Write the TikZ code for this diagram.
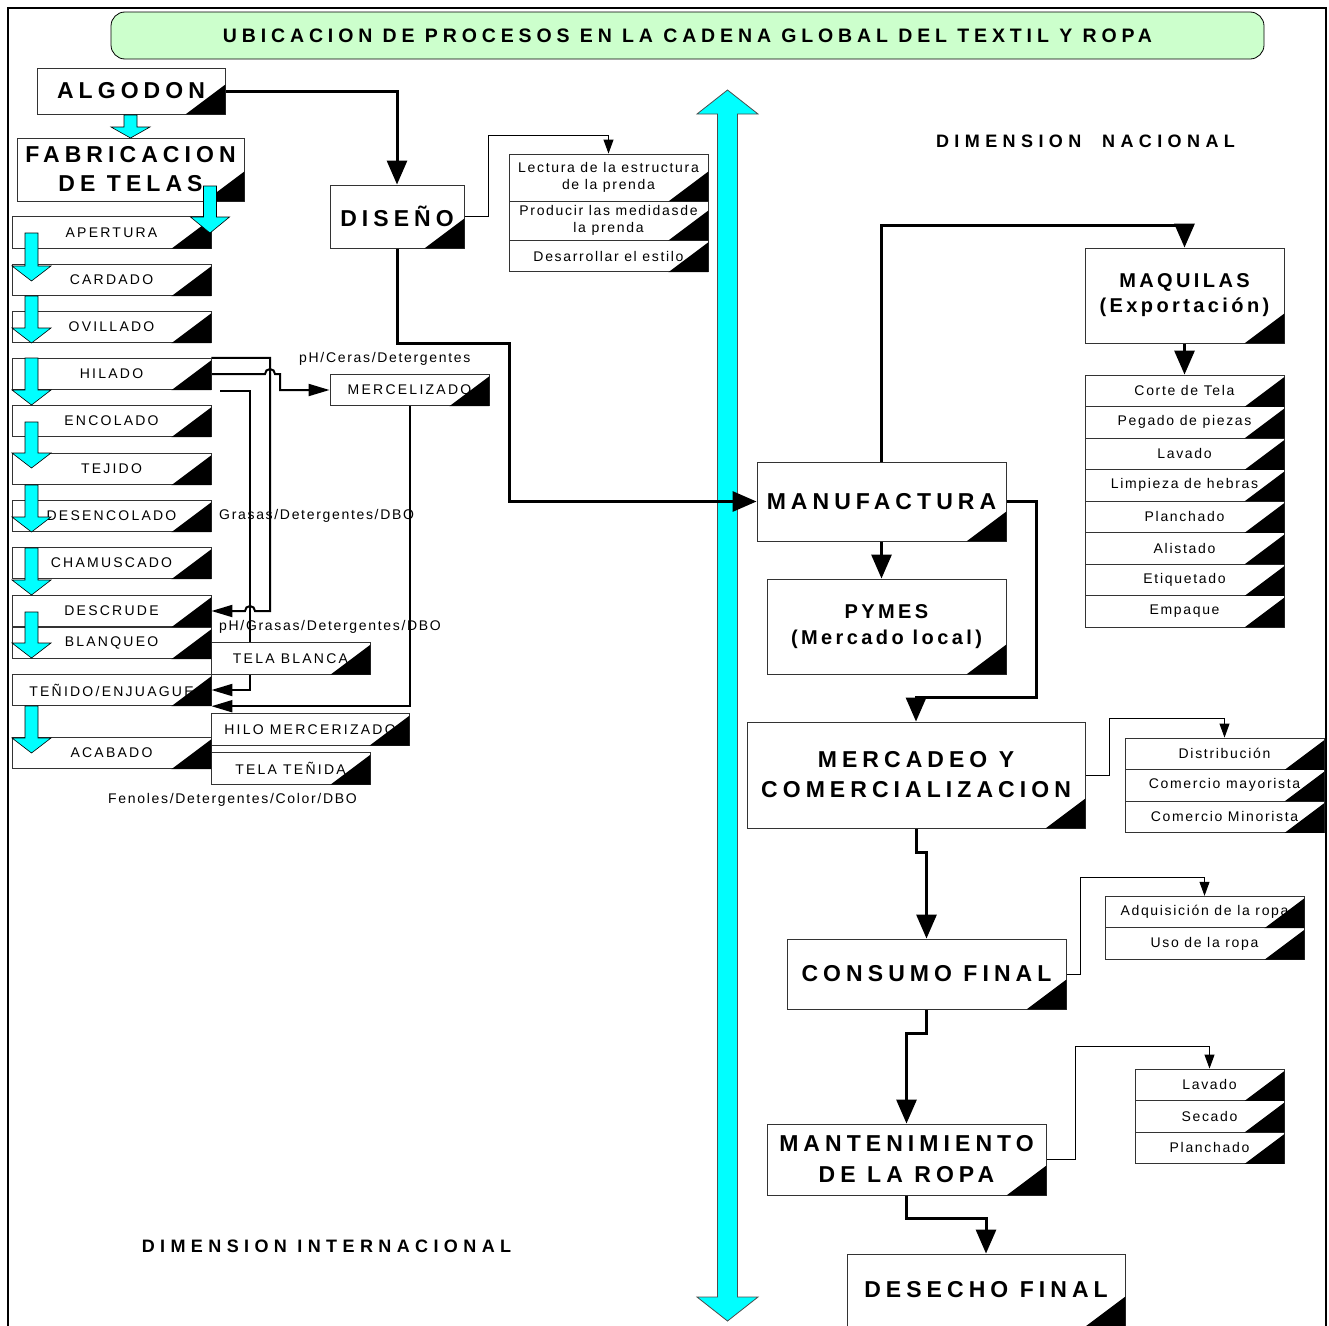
\documentclass[tikz,border=0pt]{standalone}
\usepackage{fontspec}
\setmainfont{Liberation Sans}
\newfontfamily\widesp[LetterSpace=22]{Liberation Sans}
\newfontfamily\midsp[LetterSpace=17]{Liberation Sans}
\newfontfamily\titlesp[LetterSpace=25]{Liberation Sans}
\newfontfamily\dimsp[LetterSpace=30]{Liberation Sans}
\newfontfamily\capsp[LetterSpace=16]{Liberation Sans}
\newfontfamily\lowsp[LetterSpace=12]{Liberation Sans}
\usetikzlibrary{arrows.meta,backgrounds}
\definecolor{titlegreen}{HTML}{CCFFCC}
\definecolor{aqua}{RGB}{0,255,255}
\tikzset{
  bigbox/.style={draw=black!80, fill=white, line width=0.9pt, inner sep=0pt, align=center,
    font=\widesp\bfseries\fontsize{23}{29}\selectfont},
  stepbox/.style={draw=black!80, fill=white, line width=0.9pt, inner sep=0pt,
    minimum width=199pt, minimum height=31.5pt, font=\capsp\fontsize{14}{16}\selectfont},
  itembox/.style={stepbox, align=center, font=\lowsp\fontsize{14}{17}\selectfont},
  waste/.style={inner sep=0pt, anchor=west, font=\lowsp\fontsize{14}{16}\selectfont},
  dimlabel/.style={inner sep=0pt, font=\dimsp\bfseries\fontsize{18}{20}\selectfont},
  flow/.style={line width=3pt, -{Triangle[length=24pt,width=20pt]}},
  leak/.style={line width=2pt, -{Triangle[length=21pt,width=12pt]}},
  link/.style={line width=1pt, -{Triangle[length=14pt,width=10pt]}}
}
% cyan block arrow pointing down: [head length] x, top, tip
\newcommand{\cyandown}[4][15]{%
  \filldraw[fill=aqua, draw=black, line width=0.6pt] (#2-6.5,#3) -- (#2+6.5,#3) -- (#2+6.5,#4-#1)
    -- (#2+19.5,#4-#1) -- (#2,#4) -- (#2-19.5,#4-#1) -- (#2-6.5,#4-#1) -- cycle;}
\begin{document}
\begin{tikzpicture}[x=1pt, y=-1pt]
  \useasboundingbox (0,0) rectangle (1329,1325);
  % frame
  \draw[line width=2pt] (8,1330) -- (8,8) -- (1326,8) -- (1326,1330);
  \node[draw, fill=titlegreen, rounded corners=14pt, line width=0.8pt, minimum width=1153pt,
    minimum height=47pt, inner sep=0pt, font=\titlesp\bfseries\fontsize{19.5}{22}\selectfont]
    (title) at (687.5,35.5) {UBICACION DE PROCESOS EN LA CADENA GLOBAL DEL TEXTIL Y ROPA};

  % dimension internacional
  \node[bigbox, minimum width=188pt, minimum height=46pt] (algodon) at (131,91) {ALGODON};
  \node[bigbox, minimum width=227pt, minimum height=63pt] (fabric) at (130.5,169.5) {FABRICACION\\DE TELAS};
  \foreach \t/\y/\n in {APERTURA/232.5/apertura, CARDADO/280/cardado, OVILLADO/327/ovillado,
      HILADO/374/hilado, ENCOLADO/421/encolado, TEJIDO/469/tejido, DESENCOLADO/516/desencolado,
      CHAMUSCADO/563/chamuscado, DESCRUDE/611/descrude, BLANQUEO/643/blanqueo, ACABADO/753/acabado}
    \node[stepbox] (\n) at (111.5,\y) {\t};
  \node[stepbox] (tenido) at (111.5,690) {TEÑIDO/ENJUAGUE};
  \node[stepbox, minimum width=159pt] (mercel) at (409.5,390) {MERCELIZADO};
  \node[stepbox, minimum width=159pt] (telablanca) at (290.5,658.5) {TELA BLANCA};
  \node[stepbox, minimum width=198pt] (hilomerc) at (310,729.5) {HILO MERCERIZADO};
  \node[stepbox, minimum width=159pt] (telatenida) at (290.5,768.5) {TELA TEÑIDA};
  \coordinate (dregs) at (220,391);

  \node[bigbox, minimum width=134pt, minimum height=63pt] (diseno) at (397,216.5) {DISEÑO};
  \node[itembox, minimum height=47pt] (lectura) at (608.5,177.5) {Lectura de la estructura\\de la prenda};
  \node[itembox, minimum height=39pt] (producir) at (608.5,220.5) {Producir las medidasde\\la prenda};
  \node[itembox] (desarrollar) at (608.5,256) {Desarrollar el estilo};

  % dimension nacional
  \node[bigbox, minimum width=249pt, minimum height=79pt] (manuf) at (881.5,501.5) {MANUFACTURA};
  \node[bigbox, minimum width=239pt, minimum height=95pt, font=\midsp\bfseries\fontsize{20}{26}\selectfont]
    (pymes) at (886.5,626.5) {PYMES\\(Mercado local)};
  \node[bigbox, minimum width=199pt, minimum height=95pt, font=\midsp\bfseries\fontsize{20}{25}\selectfont]
    (maquilas) at (1184.5,295.5) {MAQUILAS\\(Exportación)};
  \foreach \t [count=\i from 0] in {Corte de Tela, Pegado de piezas, Lavado, Limpieza de hebras,
      Planchado, Alistado, Etiquetado, Empaque}
    \node[itembox] (maq\i) at (1184.5,390.75+31.5*\i) {\t};
  \node[bigbox, minimum width=338pt, minimum height=106pt, font=\widesp\bfseries\fontsize{23}{30}\selectfont]
    (mercadeo) at (916,775) {MERCADEO Y\\COMERCIALIZACION};
  \foreach \t [count=\i from 0] in {Distribución, Comercio mayorista, Comercio Minorista}
    \node[itembox] (com\i) at (1224.5,753.75+31.5*\i) {\t};
  \node[bigbox, minimum width=279pt, minimum height=70pt] (consumo) at (926.5,974) {CONSUMO FINAL};
  \foreach \t [count=\i from 0] in {Adquisición de la ropa, Uso de la ropa}
    \node[itembox] (uso\i) at (1204.5,912+31.5*\i) {\t};
  \node[bigbox, minimum width=279pt, minimum height=71pt, font=\widesp\bfseries\fontsize{23}{31}\selectfont]
    (mant) at (906.5,1159.5) {MANTENIMIENTO\\DE LA ROPA};
  \foreach \t [count=\i from 0] in {Lavado, Secado, Planchado}
    \node[itembox, minimum width=149pt] (cuid\i) at (1209.5,1084.75+31.5*\i) {\t};
  \node[bigbox, minimum width=278pt, minimum height=72pt] (desecho) at (986,1290) {DESECHO FINAL};

  % black corners
  \foreach \n in {algodon, fabric, apertura, cardado, ovillado, hilado, encolado, tejido, desencolado,
      chamuscado, descrude, blanqueo, tenido, acabado, mercel, telablanca, hilomerc, telatenida,
      diseno, lectura, producir, desarrollar, manuf, pymes, maquilas, maq0, maq1, maq2, maq3, maq4,
      maq5, maq6, maq7, mercadeo, com0, com1, com2, consumo, uso0, uso1, mant, cuid0, cuid1, cuid2, desecho}
    \fill (\n.south east) -- ++(-40pt,0pt) -- ++(40pt,30pt) -- cycle;

  % cyan arrows between steps
  \cyandown[11]{130.5}{115}{138}
  \cyandown[16]{210}{186}{233}
  \foreach \a/\b in {233/281, 296/343, 358/405, 422/468, 485/532, 548/595, 612/658, 706/753}
    {\cyandown{31.5}{\a}{\b}}

  \begin{pgfonlayer}{background}
    \filldraw[fill=aqua, draw=black!70, line width=0.8pt] (717.5,114) -- (697,114) -- (727.5,90)
      -- (758,114) -- (737.5,114) -- (737.5,1297) -- (758,1297) -- (727.5,1321) -- (697,1297)
      -- (717.5,1297) -- cycle;
    % main chain
    \draw[flow] (algodon.east) -| (diseno.north);
    \draw[flow] (diseno.south) -- (397,343) -| (509,501.5) -- (manuf.west);
    \draw[flow] (manuf.north) -- (881.5,225) -| (maquilas.north);
    \draw[flow] (maquilas.south) -- (maq0.north);
    \draw[flow] (manuf.south) -- (manuf.south |- pymes.north);
    \draw[flow] (manuf.east) -| (1036,697) -| (mercadeo.north);
    \draw[flow] (mercadeo.south) -- (916,852) -| (consumo.north);
    \draw[flow] (consumo.south) -- (926.5,1033) -| (mant.north);
    \draw[flow] (mant.south) -- (906.5,1218) -| (desecho.north);
    % sub processes
    \draw[link] (diseno.east) -| (488,135) -| (lectura.north);
    \draw[link] (mercadeo.east) -| (1109,718) -| (com0.north);
    \draw[link] (consumo.east) -| (1080,877) -| (uso0.north);
    \draw[link] (mant.east) -| (1075,1046) -| (cuid0.north);
    % residues
    \draw[leak] (hilado.north east) -| (270,611) -- (255,611)
      arc[start angle=360, end angle=180, radius=5] -- (descrude.east);
    \draw[leak] (hilado.east) -- (265,374) arc[start angle=180, end angle=360, radius=5]
      -- (280,374) |- (mercel.west);
    \draw[leak] (dregs) -- (250,391) |- (tenido.east);
    \draw[leak] (mercel.south) |- (tenido.south east);
  \end{pgfonlayer}

  \node[waste] (ceras) at (299,359) {pH/Ceras/Detergentes};
  \node[waste] (grasas) at (219,516) {Grasas/Detergentes/DBO};
  \node[waste] (phgrasas) at (219,627) {pH/Grasas/Detergentes/DBO};
  \node[waste] (fenoles) at (108,800) {Fenoles/Detergentes/Color/DBO};
  \node[dimlabel] (nacional) at (1085.5,141) {DIMENSION\ \ NACIONAL};
  \node[dimlabel] (internacional) at (326.5,1246) {DIMENSION INTERNACIONAL};
\end{tikzpicture}
\end{document}
